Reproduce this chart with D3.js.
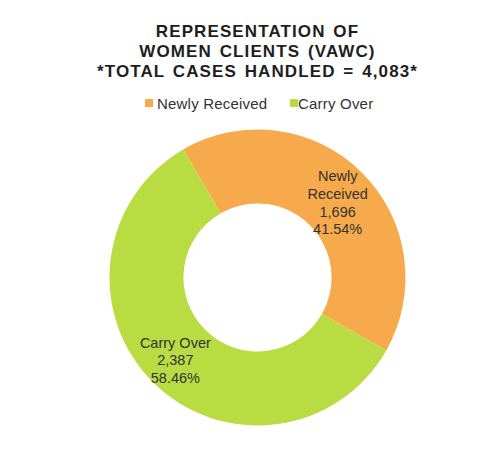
<!DOCTYPE html>
<html>
<head>
<meta charset="utf-8">
<script src="https://cdn.jsdelivr.net/npm/d3@7"></script>
<style>
  html, body { margin: 0; padding: 0; background: #fff; }
  svg { display: block; }
</style>
</head>
<body>
<svg id="chart" width="502" height="472"></svg>
<script>
// Case counts for women clients (VAWC)
const categories = ["Newly Received", "Carry Over"];
const values = [1696, 2387];
const colors = ["#F7AA4B", "#B9DC42"];
const titleLines = ["REPRESENTATION OF", "WOMEN CLIENTS (VAWC)", "*TOTAL CASES HANDLED = 4,083*"];

const W = 502, H = 472;
const cx = 257.5, cy = 277.5;
const outerR = 148, innerR = 74;

const svg = d3.select("#chart");
const font = "'Liberation Sans', Arial, sans-serif";

// Title
svg.append("g").selectAll("text")
  .data(titleLines)
  .join("text")
  .attr("x", cx)
  .attr("y", (d, i) => 37 + i * 20)
  .attr("text-anchor", "middle")
  .attr("font-family", font)
  .attr("font-weight", "bold")
  .attr("font-size", 17)
  .attr("letter-spacing", 1.1)
  .attr("word-spacing", 2)
  .attr("fill", "#1e1e1e")
  .text(d => d);

// Legend
const legendItems = [
  { x: 145, tx: 157 },
  { x: 290, tx: 298 }
];
const legend = svg.append("g");
categories.forEach((c, i) => {
  legend.append("rect")
    .attr("x", legendItems[i].x)
    .attr("y", 99)
    .attr("width", 8)
    .attr("height", 8)
    .attr("fill", colors[i]);
  legend.append("text")
    .attr("x", legendItems[i].tx)
    .attr("y", 108.5)
    .attr("font-family", font)
    .attr("font-size", 15)
    .attr("letter-spacing", 0.2)
    .attr("fill", "#333")
    .text(c);
});

// Donut
const total = d3.sum(values);
const toRad = Math.PI / 180;
const pie = d3.pie()
  .sort(null)
  .value(d => d)
  .startAngle(-30 * toRad)
  .endAngle(330 * toRad);
const arc = d3.arc().innerRadius(innerR).outerRadius(outerR);
const arcs = pie(values);

const g = svg.append("g").attr("transform", `translate(${cx},${cy})`);
g.selectAll("path")
  .data(arcs)
  .join("path")
  .attr("d", arc)
  .attr("fill", (d, i) => colors[i]);

// Data labels: name, value, percentage
const fmt = d3.format(",");
const labelOffsets = [[2, 4], [-4, 4]];
arcs.forEach((a, i) => {
  const [lx, ly] = arc.centroid(a);
  const nameLines = i === 0 ? ["Newly", "Received"] : ["Carry Over"];
  const lines = nameLines.concat([fmt(values[i]), (values[i] / total * 100).toFixed(2) + "%"]);
  const lh = 17.8;
  const x = lx + labelOffsets[i][0];
  const y0 = ly + labelOffsets[i][1] - (lines.length - 1) * lh / 2;
  const t = g.append("text")
    .attr("text-anchor", "middle")
    .attr("font-family", font)
    .attr("font-size", 14.5)
    .attr("fill", "#333");
  lines.forEach((s, j) => {
    t.append("tspan")
      .attr("x", x)
      .attr("y", y0 + j * lh)
      .attr("dy", "0.35em")
      .text(s);
  });
});
</script>
</body>
</html>
